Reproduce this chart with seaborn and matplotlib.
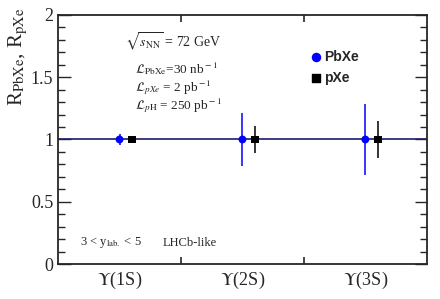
import matplotlib
matplotlib.use("Agg")
import matplotlib.pyplot as plt
import numpy as np
import pandas as pd
import seaborn as sns
from matplotlib.ticker import MultipleLocator

sns.set_style("ticks")
plt.rcParams["font.family"] = ["Liberation Serif", "DejaVu Serif"]
plt.rcParams["mathtext.fontset"] = "stix"

states = [r"$\Upsilon$(1S)", r"$\Upsilon$(2S)", r"$\Upsilon$(3S)"]
pbxe_r = [1.0, 1.0, 1.0]
pbxe_err = [0.045, 0.215, 0.285]
pxe_r = [1.0, 1.0, 1.0]
pxe_err = [0.03, 0.105, 0.145]
yticks = [0, 0.5, 1, 1.5, 2]
ylabels = ["0", "0.5", "1", "1.5", "2"]

df = pd.DataFrame(
    {
        "state": states * 2,
        "R": pbxe_r + pxe_r,
        "err": pbxe_err + pxe_err,
        "system": ["PbXe"] * 3 + ["pXe"] * 3,
    }
)
df["x"] = np.tile(np.arange(3), 2) + np.where(df["system"] == "pXe", 0.1, 0.0)

fig, ax = plt.subplots(figsize=(4.4, 2.99), dpi=100)
fig.subplots_adjust(left=0.132, right=0.97, top=0.95, bottom=0.117)

ax.axhline(1, color="#1c1c70", lw=1.2, zorder=1)

colors = {"PbXe": "blue", "pXe": "black"}
for sys_name, sub in df.groupby("system"):
    ax.errorbar(sub["x"], sub["R"], yerr=sub["err"], fmt="none",
                ecolor=colors[sys_name], elinewidth=1.1, zorder=2)

sns.scatterplot(data=df, x="x", y="R", hue="system", style="system",
                palette=colors, markers={"PbXe": "o", "pXe": "s"},
                s=32, edgecolor="none", ax=ax, zorder=3, legend=False)

ax.set_xlim(-0.5, 2.5)
ax.set_ylim(0, 2)
ax.set_xticks([0, 1, 2], states)
ax.set_xticks([0.5, 1.5], minor=True)
ax.tick_params(axis="x", which="major", length=0, labelsize=13, pad=4)
ax.tick_params(axis="x", which="minor", length=5, width=1.2,
               direction="in", top=True, bottom=True)
ax.set_yticks(yticks, ylabels)
ax.yaxis.set_minor_locator(MultipleLocator(0.1))
ax.tick_params(axis="y", which="major", length=9, width=1.0,
               direction="in", left=True, right=True, labelsize=13)
ax.tick_params(axis="y", which="minor", length=5, width=1.0,
               direction="in", left=True, right=True)
for sp in ax.spines.values():
    sp.set_linewidth(1.3)

ax.set_xlabel("")
ax.set_ylabel(r"R$_{\rm PbXe}$, R$_{\rm pXe}$", fontsize=15, loc="top")
ax.yaxis.set_label_coords(-0.075, 1.03)

ax.text(0.182, 0.868, r"$\sqrt{s_{\rm NN}}$ = 72 GeV", transform=ax.transAxes,
        fontsize=10, ha="left", va="baseline")
lx = 0.209
ax.text(lx, 0.765, r"$\mathcal{L}_{\rm PbXe}$=30 nb$^{\rm -1}$",
        transform=ax.transAxes, fontsize=9.5, ha="left", va="baseline")
ax.text(lx, 0.692, r"$\mathcal{L}_{pXe}$ = 2 pb$^{\rm -1}$",
        transform=ax.transAxes, fontsize=9.5, ha="left", va="baseline")
ax.text(lx, 0.622, r"$\mathcal{L}_{p{\rm H}}$ = 250 pb$^{\rm -1}$",
        transform=ax.transAxes, fontsize=9.5, ha="left", va="baseline")
ax.text(0.06, 0.085, r"3 < y$_{\rm lab.}$ < 5", transform=ax.transAxes,
        fontsize=9, ha="left", va="center")
ax.text(0.285, 0.085, "LHCb-like", transform=ax.transAxes,
        fontsize=9, ha="left", va="center")

ax.scatter([0.699], [0.831], transform=ax.transAxes, marker="o", s=34,
           color="blue", clip_on=False)
ax.text(0.722, 0.831, "PbXe", transform=ax.transAxes, fontsize=10,
        fontweight="bold", family=["Liberation Sans"], ha="left", va="center")
ax.scatter([0.699], [0.747], transform=ax.transAxes, marker="s", s=28,
           color="black", clip_on=False)
ax.text(0.722, 0.747, "pXe", transform=ax.transAxes, fontsize=10,
        fontweight="bold", family=["Liberation Sans"], ha="left", va="center")

fig.savefig("out.png", dpi=100)
